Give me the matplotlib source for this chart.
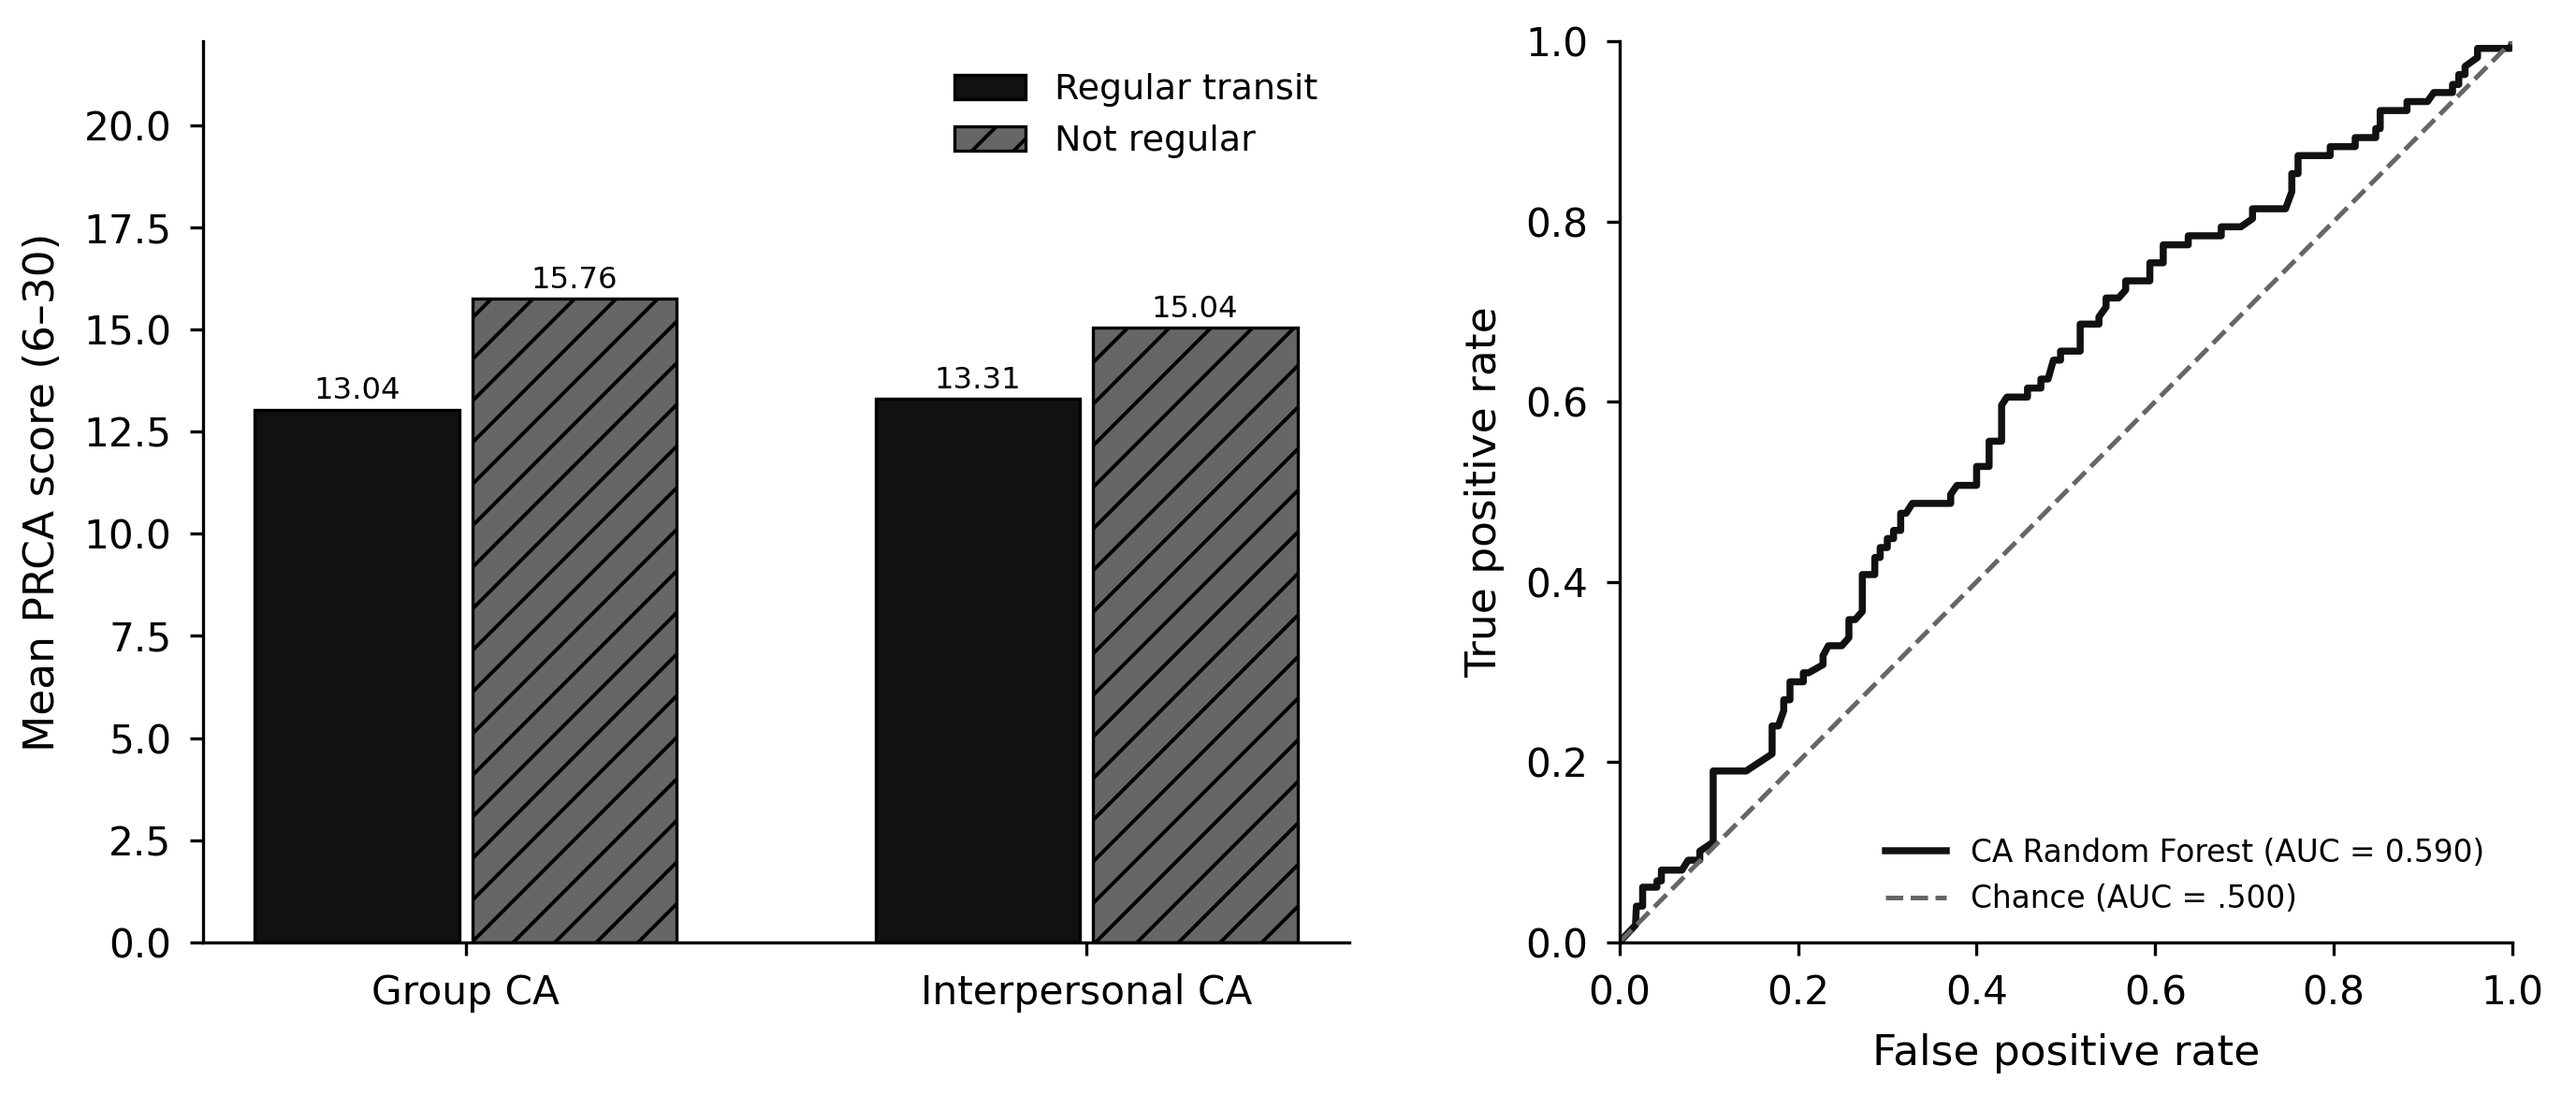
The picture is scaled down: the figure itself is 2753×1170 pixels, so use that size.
import matplotlib
matplotlib.use("Agg")
import matplotlib.pyplot as plt
import numpy as np

# ---- data ----
categories = ["Group CA", "Interpersonal CA"]
regular_transit = [13.04, 13.31]
not_regular = [15.76, 15.04]
series_labels = ["Regular transit", "Not regular"]

roc_fpr = [0.000, 0.018, 0.019, 0.026, 0.026, 0.042, 0.042, 0.047, 0.047, 0.070,
           0.077, 0.090, 0.090, 0.105, 0.105, 0.142, 0.171, 0.171, 0.178, 0.184,
           0.184, 0.191, 0.191, 0.206, 0.206, 0.212, 0.228, 0.228, 0.234, 0.249,
           0.257, 0.257, 0.264, 0.272, 0.272, 0.286, 0.286, 0.292, 0.292, 0.300,
           0.300, 0.307, 0.307, 0.315, 0.315, 0.321, 0.328, 0.371, 0.371, 0.378,
           0.400, 0.400, 0.414, 0.414, 0.428, 0.428, 0.434, 0.457, 0.457, 0.472,
           0.472, 0.480, 0.486, 0.494, 0.494, 0.516, 0.516, 0.537, 0.537, 0.545,
           0.545, 0.559, 0.567, 0.567, 0.594, 0.594, 0.609, 0.609, 0.637, 0.637,
           0.674, 0.674, 0.696, 0.709, 0.709, 0.746, 0.753, 0.753, 0.760, 0.760,
           0.796, 0.796, 0.824, 0.824, 0.847, 0.847, 0.852, 0.852, 0.882, 0.882,
           0.905, 0.912, 0.933, 0.933, 0.940, 0.940, 0.947, 0.947, 0.961, 0.961,
           0.998, 1.000]
roc_tpr = [0.000, 0.019, 0.040, 0.040, 0.061, 0.061, 0.068, 0.068, 0.080, 0.080,
           0.091, 0.091, 0.101, 0.111, 0.190, 0.190, 0.209, 0.240, 0.240, 0.257,
           0.269, 0.269, 0.289, 0.289, 0.299, 0.299, 0.308, 0.318, 0.329, 0.329,
           0.338, 0.358, 0.358, 0.367, 0.408, 0.408, 0.427, 0.427, 0.438, 0.438,
           0.448, 0.448, 0.457, 0.457, 0.476, 0.476, 0.487, 0.487, 0.497, 0.507,
           0.507, 0.528, 0.528, 0.556, 0.556, 0.596, 0.605, 0.605, 0.615, 0.615,
           0.625, 0.625, 0.646, 0.646, 0.656, 0.656, 0.686, 0.686, 0.694, 0.705,
           0.715, 0.715, 0.724, 0.734, 0.734, 0.754, 0.754, 0.774, 0.774, 0.784,
           0.784, 0.794, 0.794, 0.803, 0.814, 0.814, 0.833, 0.853, 0.853, 0.873,
           0.873, 0.883, 0.883, 0.893, 0.893, 0.903, 0.903, 0.923, 0.923, 0.933,
           0.933, 0.943, 0.943, 0.952, 0.952, 0.963, 0.963, 0.972, 0.982, 0.992,
           0.992, 1.000]
chance = [0.0, 1.0]
roc_label = "CA Random Forest (AUC = 0.590)"
chance_label = "Chance (AUC = .500)"

# ---- style ----
DPI = 400
plt.rcParams.update({
    "font.family": ["DejaVu Sans"],
    "axes.linewidth": 0.6,
    "xtick.major.width": 0.6,
    "ytick.major.width": 0.6,
    "xtick.major.size": 2.5,
    "ytick.major.size": 2.5,
    "xtick.labelsize": 7.6,
    "ytick.labelsize": 7.6,
    "axes.labelsize": 8.2,
    "hatch.linewidth": 0.7,
    "hatch.color": "black",
})

fig = plt.figure(figsize=(2753 / DPI, 1170 / DPI), dpi=DPI)
ax1 = fig.add_axes([0.07871, 0.13957, 0.44519, 0.82282])
ax2 = fig.add_axes([0.62866, 0.13957, 0.34664, 0.82282])

# ---- bar chart ----
x = np.arange(len(categories))
w = 0.33
off = 0.175
b1 = ax1.bar(x - off, regular_transit, w, color="#111111", edgecolor="black",
             linewidth=0.6, label=series_labels[0])
b2 = ax1.bar(x + off, not_regular, w, color="#666666", edgecolor="black",
             linewidth=0.6, hatch="///", label=series_labels[1])
ax1.bar_label(b1, fmt="%.2f", padding=0.8, fontsize=5.8)
ax1.bar_label(b2, fmt="%.2f", padding=0.8, fontsize=5.8)
ax1.set_xticks(x)
ax1.set_xticklabels(categories)
ax1.set_ylim(0, max(not_regular) * 1.4)
ax1.set_ylabel("Mean PRCA score (6\u201330)")
ax1.spines["top"].set_visible(False)
ax1.spines["right"].set_visible(False)
ax1.legend(loc="upper right", frameon=False, fontsize=6.85)

# ---- ROC ----
ax2.plot(roc_fpr, roc_tpr, color="#111111", linewidth=1.35, label=roc_label)
ax2.plot(chance, chance, linestyle="--", color="#666666", linewidth=0.9,
         label=chance_label)
ax2.set_xlim(0, 1)
ax2.set_ylim(0, 1)
ax2.set_xticks(np.linspace(0, 1, 6))
ax2.set_yticks(np.linspace(0, 1, 6))
ax2.set_xlabel("False positive rate")
ax2.set_ylabel("True positive rate")
ax2.spines["top"].set_visible(False)
ax2.spines["right"].set_visible(False)
ax2.legend(loc="lower right", frameon=False, fontsize=5.9)

fig.savefig("out.png", dpi=DPI)
